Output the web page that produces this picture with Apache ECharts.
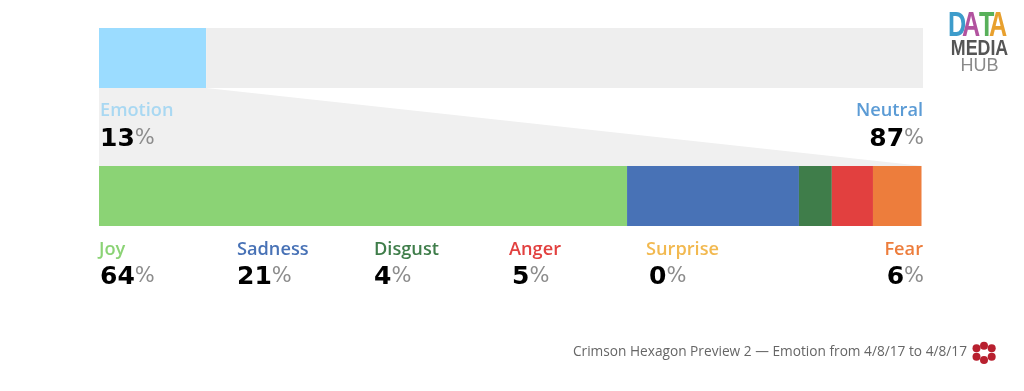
<!DOCTYPE html>
<html>
<head>
<meta charset="utf-8">
<style>html,body{margin:0;padding:0;background:#fff}#c{width:1024px;height:391px}</style>
<script src="https://cdn.jsdelivr.net/npm/echarts@6/dist/echarts.min.js"></script>
</head>
<body>
<div id="c"></div>
<script>
// Data
const topNames = ['Emotion', 'Neutral'];
const topValues = [13, 87];
const topLabels = [13, 87];
const emotionNames = ['Joy', 'Sadness', 'Disgust', 'Anger', 'Surprise', 'Fear'];
const emotionValues = [64.2, 20.9, 4.0, 5.0, 0, 5.9];
const emotionLabels = [64, 21, 4, 5, 0, 6];
const footerText = 'Crimson Hexagon Preview 2 \u2014 Emotion from 4/8/17 to 4/8/17';

// Styles
const topColors = ['#9bdcff', '#eeeeee'];
const topTextColors = ['#a9d8f2', '#5b9bd5'];
const emotionColors = ['#8bd375', '#4872b6', '#3f7d4a', '#e2403f', '#f7b84b', '#ed7d3c'];
const emotionTextColors = ['#8bd375', '#4872b6', '#3f7d4a', '#e2403f', '#f2b950', '#ed7d3c'];

const chart = echarts.init(document.getElementById('c'), null, {renderer: 'canvas'});

function stacked(names, values, colors, idx) {
  return names.map((n, i) => ({
    name: n, type: 'bar', stack: 's' + idx, xAxisIndex: idx, yAxisIndex: idx,
    barWidth: '100%', silent: true, data: [values[i]],
    itemStyle: {color: colors[i]}, animation: false
  }));
}
const hiddenVal = {type: 'value', min: 0, max: 100, show: false};
const hiddenCat = {type: 'category', data: [''], show: false};

const nameFont = '600 18.2px "Open Sans"';
const numFont = 'bold 25px "DejaVu Sans"';
const pctFont = '21px "DejaVu Sans"';
function block(name, value, color, x, numX, yName, yNum, right) {
  const align = right ? 'right' : 'left';
  return [
    {type: 'text', z: 10, silent: true, style: {text: name, x: x, y: yName, fill: color, font: nameFont, align: align, verticalAlign: 'middle'}},
    {type: 'text', z: 10, silent: true, style: {
      text: '{n|' + value + '}{p|%}', x: numX, y: yNum, align: align, verticalAlign: 'middle',
      rich: {
        n: {font: numFont, fill: '#000000'},
        p: {font: pctFont, fill: '#8c8c8c'}
      }
    }}
  ];
}
const els = [];
els.push(...block(topNames[0], topLabels[0], topTextColors[0], 100, 100, 111, 139, false));
els.push(...block(topNames[1], topLabels[1], topTextColors[1], 923, 924, 111, 139, true));
const nameXs = [99, 237, 374, 509, 646, 923];
const numXs = [100, 237, 374, 512, 649, 924];
emotionNames.forEach((n, i) => {
  els.push(...block(n, emotionLabels[i], emotionTextColors[i], nameXs[i], numXs[i], 250, 277, i === 5));
});

// Footer
els.push({type: 'text', z: 10, silent: true, style: {text: footerText, x: 967, y: 352, align: 'right', verticalAlign: 'middle', font: '13.7px "Open Sans"', fill: '#666666'}});
// Footer hexagon mark
[[984, 345.7], [991.7, 348.3], [991.7, 356.7], [984, 360], [976.5, 356.7], [976.5, 348.3]].forEach(p => {
  els.push({type: 'circle', z: 10, silent: true, shape: {cx: p[0], cy: p[1], r: 4}, style: {fill: '#b8202f'}});
});
// Logo
[['D', 948, '#3d9ccb'], ['A', 962, '#b2539f'], ['T', 979, '#58b05a'], ['A', 989, '#e8a02e']].forEach(l => {
  els.push({type: 'text', z: 10, silent: true, x: l[1], y: 26, scaleX: 0.72, style: {text: l[0], x: 0, y: 0, verticalAlign: 'middle', font: 'bold 35px "Liberation Sans"', fill: l[2]}});
});
els.push({type: 'text', z: 10, silent: true, x: 979.5, y: 48.5, scaleX: 0.81, style: {text: 'MEDIA', x: 0, y: 0, align: 'center', verticalAlign: 'middle', font: 'bold 22px "Liberation Sans"', fill: '#555555'}});
els.push({type: 'text', z: 10, silent: true, x: 979.5, y: 66, style: {text: 'HUB', x: 0, y: 0, align: 'center', verticalAlign: 'middle', font: '18px "Liberation Sans"', fill: '#8a8a8a'}});

chart.setOption({
  animation: false,
  backgroundColor: '#ffffff',
  grid: [
    {left: 99, top: 28, width: 824, height: 60},
    {left: 99, top: 166, width: 822.5, height: 60},
    {left: 99, top: 88, width: 824, height: 78}
  ],
  xAxis: [
    Object.assign({gridIndex: 0}, hiddenVal),
    Object.assign({gridIndex: 1}, hiddenVal),
    Object.assign({gridIndex: 2}, hiddenVal)
  ],
  yAxis: [
    Object.assign({gridIndex: 0}, hiddenCat),
    Object.assign({gridIndex: 1}, hiddenCat),
    {gridIndex: 2, type: 'value', min: 0, max: 1, show: false}
  ],
  series: [
    {
      type: 'custom', xAxisIndex: 2, yAxisIndex: 2, silent: true,
      data: [[topValues[0]]],
      renderItem: function (params, api) {
        const pts = [[0, 1], [api.value(0), 1], [100, 0], [0, 0]].map(p => api.coord(p));
        return {type: 'polygon', shape: {points: pts}, style: {fill: '#f0f0f0'}};
      }
    },
    ...stacked(topNames, topValues, topColors, 0),
    ...stacked(emotionNames, emotionValues, emotionColors, 1)
  ],
  graphic: {elements: els}
});
</script>
</body>
</html>
